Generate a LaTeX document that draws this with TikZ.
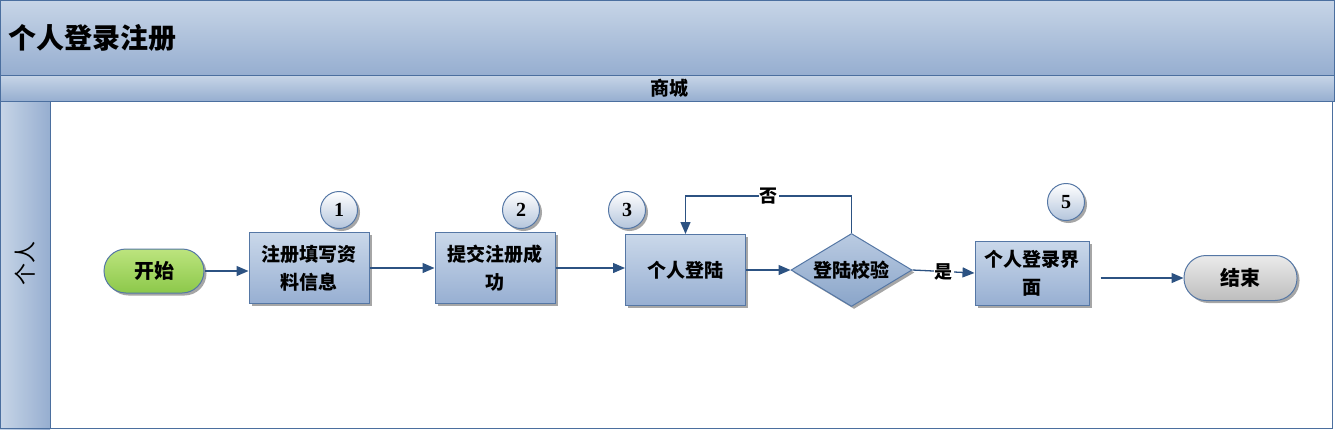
\documentclass[tikz,border=0pt]{standalone}
\usepackage{fontspec}
\setmainfont{Liberation Serif}
\newfontfamily\cjk{Noto Sans CJK SC}
\usetikzlibrary{shapes.geometric,shadows,arrows.meta,calc}
\definecolor{bartop}{HTML}{C7D5E7}
\definecolor{barbot}{HTML}{96AED0}
\definecolor{barline}{HTML}{4B6F9F}
\definecolor{boxtop}{HTML}{CAD8EA}
\definecolor{boxbot}{HTML}{97AFD2}
\definecolor{boxline}{HTML}{5577A5}
\definecolor{dtop}{HTML}{BACBE2}
\definecolor{dbot}{HTML}{8AA5C9}
\definecolor{gtop}{HTML}{BCE47E}
\definecolor{gbot}{HTML}{8CC84A}
\definecolor{etop}{HTML}{EBEBEB}
\definecolor{ebot}{HTML}{BDBDBD}
\definecolor{ctop}{HTML}{FFFFFF}
\definecolor{cbot}{HTML}{B4C5DC}
\definecolor{arrc}{HTML}{2C5282}
\tikzset{
  shad/.style={drop shadow={shadow xshift=2.5pt,shadow yshift=-2.5pt,fill=black,opacity=0.35}},
  cjkb/.style={font=\cjk\bfseries\fontsize{19}{28}\selectfont},
  stepbox/.style={draw=boxline,line width=1pt,top color=boxtop,bottom color=boxbot,
    minimum width=120pt,minimum height=71pt,align=center,inner sep=0pt,cjkb,shad},
  term/.style={draw=boxline,line width=1pt,rounded corners=22pt,minimum width=100pt,
    minimum height=44pt,inner sep=0pt,font=\cjk\bfseries\fontsize{20}{24}\selectfont,shad},
  numc/.style={circle,draw=boxline,line width=1pt,top color=ctop,bottom color=cbot,
    minimum size=37pt,inner sep=0pt,font=\bfseries\fontsize{20}{22}\selectfont,shad},
  arr/.style={draw=arrc,line width=1.3pt,-{Triangle[length=12pt,width=10pt]}},
  lbl/.style={fill=white,inner sep=1pt,font=\cjk\bfseries\fontsize{18}{20}\selectfont}
}
\begin{document}
\begin{tikzpicture}[x=1pt,y=-1pt]
\useasboundingbox (0,0) rectangle (1335,429);
% title bar
\fill[top color=bartop,bottom color=barbot] (0,0) rectangle (1335,75);
\draw[barline,line width=1pt] (0.5,0.5) rectangle (1334.5,75);
\node[anchor=west,font=\cjk\bfseries\fontsize{28}{32}\selectfont] (title) at (5,38) {个人登录注册};
% stage bar
\fill[top color=bartop,bottom color=barbot] (0,75) rectangle (1335,101);
\draw[barline,line width=1pt] (0.5,75) rectangle (1334.5,101);
\node[font=\cjk\bfseries\fontsize{19}{22}\selectfont] (stage) at (669,88) {商城};
% lane
\fill[left color=bartop,right color=barbot] (0,101) rectangle (50,429);
\draw[barline,line width=1pt] (0.5,101) rectangle (50,428.5);
\draw[barline,line width=1pt] (50,101) rectangle (1332.5,428.5);
\node[rotate=90,font=\cjk\fontsize{22}{24}\selectfont] (lane) at (25,263) {个人};
% nodes
\node[term,top color=gtop,bottom color=gbot] (start) at (154,271) {开始};
\node[stepbox] (b1) at (309,268) {注册填写资\\料信息};
\node[stepbox] (b2) at (495,268) {提交注册成\\功};
\node[stepbox] (b3) at (685.5,270) {个人登陆};
\node[diamond,draw=boxline,line width=1pt,top color=dtop,bottom color=dbot,
  minimum width=121pt,minimum height=73pt,inner sep=0pt,shad] (d) at (851.5,270) {};
\node[cjkb] (dt) at (d) {登陆校验};
\node[stepbox,minimum width=114pt,minimum height=64pt] (b5) at (1032,273) {个人登录界\\面};
\node[term,top color=etop,bottom color=ebot,minimum width=113pt,minimum height=45pt] (end) at (1240.5,278) {结束};
% numbered circles
\node[numc] (n1) at (339,210) {1};
\node[numc] (n2) at (521,210) {2};
\node[numc] (n3) at (627,210) {3};
\node[numc] (n5) at (1066,202) {5};
% connectors
\draw[arr] (start) -- (b1.west |- start);
\draw[arr] (b1) -- (b2);
\draw[arr] (b2) -- (b3.west |- b2);
\draw[arr] (b3) -- (d);
\draw[arr] (d.north) |- node[pos=0.75,lbl] {否} ($(b3.north)+(0,-38)$) -- (b3.north);
\draw[arr] (d.east) -- node[pos=0.5,lbl] {是} (b5.west);
\draw[arr,shorten <=11pt] (b5.east |- end) -- (end);
\end{tikzpicture}
\end{document}
